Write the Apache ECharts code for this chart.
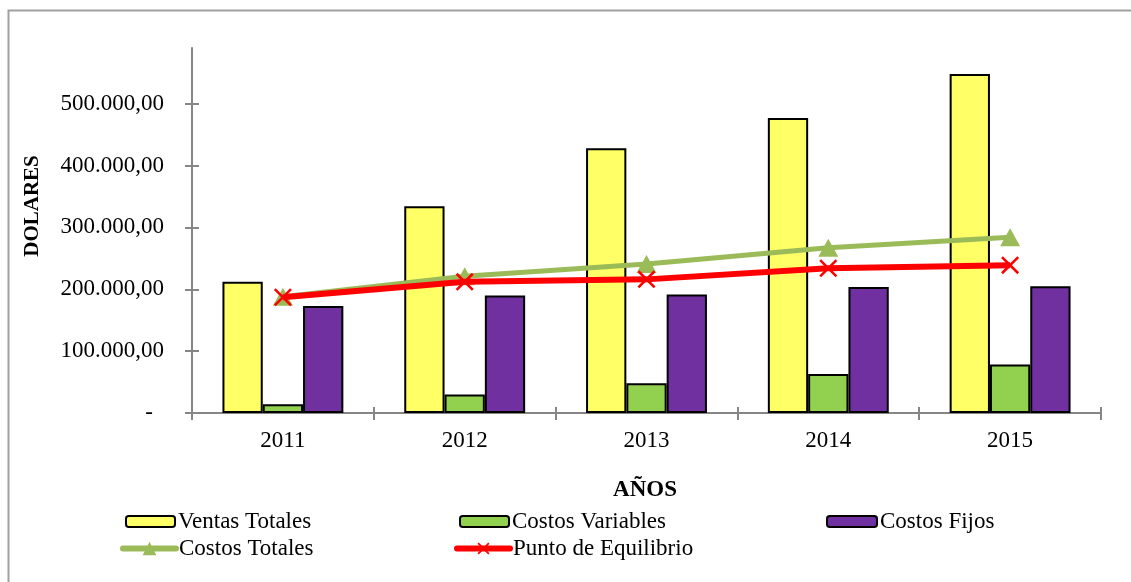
<!DOCTYPE html>
<html>
<head>
<meta charset="utf-8">
<script src="https://cdn.jsdelivr.net/npm/echarts@6/dist/echarts.min.js"></script>
<style>
  html, body { margin: 0; padding: 0; background: #fff; }
  #chart { width: 1131px; height: 582px; }
</style>
</head>
<body>
<div id="chart"></div>
<script>
// Years on the category axis
const years = ['2011', '2012', '2013', '2014', '2015'];
// Bar series (dollars)
const ventasTotales = [212000, 334000, 428000, 477000, 548000];
const costosVariables = [14000, 30000, 48000, 63000, 78500];
const costosFijos = [173000, 190000, 191500, 203500, 205000];
// Line series (dollars)
const costosTotales = [188000, 221000, 241000, 267000, 284000];
const puntoEquilibrio = [187000, 212000, 216000, 234000, 239000];
// Value axis ticks
const yTicks = [0, 100000, 200000, 300000, 400000, 500000];

const FONT = '"Liberation Serif", "Times New Roman", serif';
const AXIS_GRAY = '#868686';

function money(v) {
  if (v === 0) return '{dash|-}';
  const s = String(Math.round(v)).replace(/\B(?=(\d{3})+(?!\d))/g, '.');
  return s + ',00';
}

const crossMark = 'path://M0,1L1,0L10,9L9,10Z M9,0L10,1L1,10L0,9Z';

const chart = echarts.init(document.getElementById('chart'), null, { renderer: 'canvas' });

const legendBase = {
  orient: 'horizontal',
  padding: 0,
  itemGap: 0,
  selectedMode: false,
  textStyle: { fontFamily: FONT, fontSize: 23, color: '#000', padding: [0, 0, 0, -2] }
};

chart.setOption({
  animation: false,
  backgroundColor: '#fff',
  grid: { left: 192, right: 30, top: 48, bottom: 169, containLabel: false },
  xAxis: [
    {
      type: 'category',
      data: years,
      boundaryGap: true,
      axisLine: { lineStyle: { color: AXIS_GRAY, width: 2 } },
      axisTick: { show: true, inside: false, length: 7, lineStyle: { color: AXIS_GRAY, width: 2 } },
      axisLabel: { color: '#000', fontFamily: FONT, fontSize: 23, margin: 16 },
      splitLine: { show: false }
    },
    {
      type: 'category',
      data: years,
      position: 'bottom',
      boundaryGap: true,
      axisLine: { show: false },
      axisTick: { show: true, inside: true, length: 6, lineStyle: { color: AXIS_GRAY, width: 2 } },
      axisLabel: { show: false },
      splitLine: { show: false }
    }
  ],
  yAxis: [
    {
      type: 'value',
      min: 0,
      max: 590000,
      interval: 100000,
      axisLine: { show: true, lineStyle: { color: AXIS_GRAY, width: 2 } },
      axisTick: { show: true, inside: false, length: 7, customValues: yTicks, lineStyle: { color: AXIS_GRAY, width: 2 } },
      axisLabel: {
        customValues: yTicks,
        color: '#000', fontFamily: FONT, fontSize: 23, margin: 28,
        formatter: money,
        rich: { dash: { fontFamily: FONT, fontSize: 23, color: '#000', padding: [0, 11, 0, 0] } }
      },
      splitLine: { show: false }
    },
    {
      type: 'value',
      position: 'left',
      min: 0,
      max: 590000,
      interval: 100000,
      axisLine: { show: false },
      axisTick: { show: true, inside: true, length: 7, customValues: yTicks, lineStyle: { color: AXIS_GRAY, width: 2 } },
      axisLabel: { show: false },
      splitLine: { show: false }
    }
  ],
  legend: [
    Object.assign({}, legendBase, { data: ['Ventas Totales'], left: 125, top: 510, itemWidth: 49, itemHeight: 11 }),
    Object.assign({}, legendBase, { data: ['Costos Variables'], left: 459, top: 510, itemWidth: 49, itemHeight: 11 }),
    Object.assign({}, legendBase, { data: ['Costos Fijos'], left: 826, top: 510, itemWidth: 50, itemHeight: 11 }),
    Object.assign({}, legendBase, {
      data: ['Costos Totales'], left: 120, top: 537, itemWidth: 53, itemHeight: 17,
      lineStyle: { width: 6, cap: 'round' }
    }),
    Object.assign({}, legendBase, {
      data: ['Punto de Equilibrio'], left: 454, top: 537, itemWidth: 53, itemHeight: 15,
      lineStyle: { width: 6, cap: 'round' }
    })
  ],
  graphic: [
    {
      type: 'rect',
      shape: { x: 8.5, y: 10.5, width: 1300, height: 800 },
      style: { fill: 'none', stroke: '#a0a0a0', lineWidth: 2 },
      silent: true
    },
    {
      type: 'text',
      x: 33, y: 206, rotation: Math.PI / 2,
      style: { text: 'DOLARES', fontFamily: FONT, fontSize: 21, fontWeight: 'bold', fill: '#000', align: 'center', verticalAlign: 'middle' }
    },
    {
      type: 'text',
      x: 645, y: 490,
      style: { text: 'AÑOS', fontFamily: FONT, fontSize: 23, fontWeight: 'bold', fill: '#000', align: 'center', verticalAlign: 'middle' }
    }
  ],
  series: [
    {
      name: 'Ventas Totales', type: 'bar', data: ventasTotales,
      barGap: '0%', barCategoryGap: '33.5%',
      itemStyle: { color: '#FFFF66', borderColor: '#000', borderWidth: 2 },
      z: 2
    },
    {
      name: 'Costos Variables', type: 'bar', data: costosVariables,
      barGap: '0%', barCategoryGap: '33.5%',
      itemStyle: { color: '#92D050', borderColor: '#000', borderWidth: 2 },
      z: 2
    },
    {
      name: 'Costos Fijos', type: 'bar', data: costosFijos,
      barGap: '0%', barCategoryGap: '33.5%',
      itemStyle: { color: '#7030A0', borderColor: '#000', borderWidth: 2 },
      z: 2
    },
    {
      name: 'Costos Totales', type: 'line', data: costosTotales,
      symbol: 'triangle', symbolSize: [20, 18], showSymbol: true,
      lineStyle: { color: '#9BBB59', width: 5 },
      itemStyle: { color: '#9BBB59' },
      z: 5
    },
    {
      name: 'Punto de Equilibrio', type: 'line', data: puntoEquilibrio,
      symbol: crossMark, symbolSize: 18, showSymbol: true,
      lineStyle: { color: '#FF0000', width: 6 },
      itemStyle: { color: '#FF0000' },
      z: 6
    }
  ]
});
</script>
</body>
</html>
